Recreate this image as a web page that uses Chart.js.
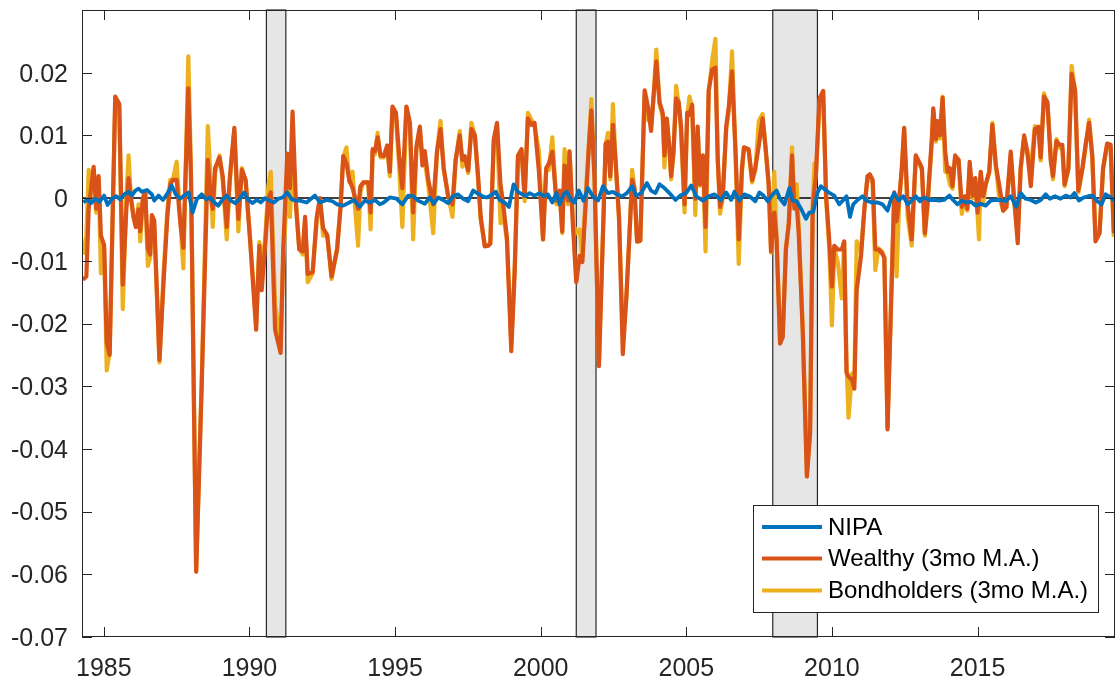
<!DOCTYPE html>
<html>
<head>
<meta charset="utf-8">
<title>NIPA vs Wealthy vs Bondholders</title>
<script src="https://cdn.jsdelivr.net/npm/chart.js@4.4.1/dist/chart.umd.min.js"></script>
<style>
  html, body { margin: 0; padding: 0; background: #fff; }
  #wrap { width: 1116px; height: 681px; }
</style>
</head>
<body>
<div id="wrap"><canvas id="chart" width="1116" height="681"></canvas></div>
<script>
// Dates (decimal years) of the traced points for the two 3mo M.A. series
const tW = [
  1984.28,1984.40,1984.48,1984.65,1984.74,1984.82,1984.90,1985.01,1985.10,1985.20,
  1985.39,1985.53,1985.65,1985.77,1985.85,1985.93,1986.02,1986.10,1986.19,1986.25,
  1986.34,1986.42,1986.51,1986.59,1986.65,1986.73,1986.91,1987.05,1987.18,1987.28,
  1987.37,1987.50,1987.62,1987.73,1987.90,1987.99,1988.17,1988.36,1988.57,1988.67,
  1988.74,1988.82,1988.97,1989.08,1989.22,1989.33,1989.48,1989.62,1989.74,1989.87,
  1990.02,1990.23,1990.34,1990.42,1990.53,1990.65,1990.73,1990.88,1991.07,1991.16,
  1991.30,1991.39,1991.48,1991.60,1991.71,1991.83,1991.91,1992.00,1992.17,1992.31,
  1992.42,1992.53,1992.67,1992.82,1993.01,1993.13,1993.22,1993.33,1993.43,1993.54,
  1993.65,1993.73,1993.81,1993.91,1994.08,1994.16,1994.23,1994.31,1994.40,1994.50,
  1994.61,1994.73,1994.82,1994.91,1995.03,1995.14,1995.25,1995.39,1995.51,1995.62,
  1995.73,
  1995.85,1995.94,1996.02,1996.14,1996.31,1996.44,1996.56,1996.67,1996.82,1996.97,
  1997.08,1997.22,1997.31,1997.39,1997.51,1997.62,1997.74,1997.85,1997.94,1998.08,
  1998.19,1998.27,1998.39,1998.50,1998.62,1998.73,1998.84,1998.99,1999.11,1999.22,
  1999.34,1999.45,1999.56,1999.68,1999.79,1999.94,2000.08,2000.19,2000.28,2000.40,
  2000.54,2000.65,2000.74,2000.82,2000.94,2000.99,2001.11,2001.22,2001.34,2001.43,
  2001.54,2001.66,2001.74,2001.85,
  2002.00,2002.14,2002.23,2002.31,2002.39,2002.48,2002.57,2002.69,2002.82,2002.94,
  2003.05,2003.14,2003.22,2003.31,2003.42,2003.57,2003.68,2003.79,2003.87,2003.97,
  2004.08,2004.19,2004.25,2004.33,2004.42,2004.48,2004.56,2004.65,2004.74,2004.82,
  2004.94,2005.03,2005.11,2005.20,2005.31,2005.39,2005.47,2005.57,2005.66,2005.77,
  2005.89,2006.00,2006.08,2006.16,2006.25,2006.37,2006.46,2006.57,2006.69,2006.80,
  2006.91,2006.98,2007.14,2007.26,2007.37,2007.49,
  2007.62,2007.72,2007.83,2007.91,2008.02,2008.10,2008.22,2008.31,2008.42,2008.52,
  2008.63,2008.71,2008.79,2008.86,2009.00,2009.14,2009.25,2009.34,2009.40,2009.45,
  2009.57,2009.70,2009.80,2009.91,2010.00,2010.08,2010.20,2010.34,2010.42,2010.50,
  2010.57,2010.69,2010.77,2010.85,2011.00,2011.11,2011.22,2011.30,2011.40,2011.49,
  2011.60,2011.72,2011.80,2011.91,2012.02,2012.14,2012.22,2012.31,2012.40,2012.48,
  2012.60,2012.74,2012.88,2012.99,2013.09,2013.19,2013.28,
  2013.43,2013.48,2013.57,2013.63,2013.71,2013.80,2013.89,2013.97,2014.05,2014.14,
  2014.23,2014.35,2014.46,2014.57,2014.65,2014.73,2014.83,2014.92,2015.00,2015.05,
  2015.11,2015.19,2015.28,2015.40,2015.51,2015.63,2015.74,2015.88,2015.99,2016.14,
  2016.25,2016.38,2016.48,2016.60,2016.71,2016.83,2016.97,2017.09,2017.17,2017.28,
  2017.40,2017.51,2017.59,2017.71,2017.82,2017.91,2017.99,2018.12,2018.23,2018.35,
  2018.46,2018.60,2018.71,2018.83,2018.94,2019.05,2019.19,2019.31,2019.45,2019.57,
  2019.68
];

const wealthy = [
  -0.0130,-0.0125,-0.0017,0.0050,-0.0017,0.0035,-0.0060,-0.0075,-0.0230,-0.0250,
  0.0162,0.0150,-0.0138,-0.0020,0.0032,0.0000,-0.0030,-0.0046,-0.0018,-0.0053,
  0.0000,0.0010,-0.0080,-0.0090,-0.0027,-0.0036,-0.0258,-0.0134,-0.0030,0.0022,
  0.0029,0.0029,-0.0036,-0.0079,0.0175,0.0035,-0.0596,-0.0300,0.0061,0.0000,
  -0.0017,0.0048,0.0065,0.0035,-0.0046,0.0035,0.0112,-0.0033,0.0045,0.0029,
  -0.0066,-0.0210,-0.0076,-0.0147,-0.0082,0.0000,0.0009,-0.0210,-0.0247,-0.0080,
  0.0071,0.0016,0.0138,-0.0013,-0.0082,-0.0085,-0.0030,-0.0121,-0.0118,-0.0030,
  0.0000,-0.0048,-0.0059,-0.0125,-0.0082,-0.0013,0.0067,0.0055,0.0029,0.0016,
  -0.0004,-0.0017,0.0019,0.0025,0.0025,-0.0023,0.0078,0.0075,0.0097,0.0068,
  0.0067,0.0084,0.0042,0.0146,0.0136,0.0068,0.0016,0.0146,0.0120,-0.0023,
  0.0081,
  0.0114,0.0052,0.0075,0.0029,-0.0010,0.0074,0.0110,0.0048,0.0003,-0.0010,
  0.0061,0.0100,0.0061,0.0067,0.0044,0.0110,0.0100,0.0035,-0.0030,-0.0077,
  -0.0076,-0.0073,0.0094,0.0120,0.0022,-0.0017,-0.0063,-0.0244,-0.0115,0.0068,
  0.0078,0.0003,0.0127,0.0117,0.0120,0.0042,-0.0066,0.0048,0.0055,0.0074,
  -0.0004,0.0012,-0.0053,0.0052,-0.0004,0.0074,-0.0046,-0.0134,-0.0092,-0.0102,
  -0.0013,0.0087,0.0140,0.0029,
  -0.0268,-0.0056,0.0087,0.0090,0.0035,0.0117,0.0061,-0.0030,-0.0249,-0.0160,
  -0.0056,0.0029,0.0016,-0.0069,-0.0068,0.0172,0.0146,0.0107,0.0159,0.0218,
  0.0153,0.0136,0.0068,0.0127,0.0081,0.0035,0.0074,0.0159,0.0153,0.0114,
  -0.0010,0.0136,0.0133,0.0149,-0.0001,0.0114,0.0022,0.0068,-0.0046,0.0172,
  0.0205,0.0208,0.0061,-0.0014,0.0003,0.0114,0.0146,0.0202,0.0074,-0.0066,
  0.0048,0.0081,0.0078,0.0029,0.0048,0.0084,
  0.0127,0.0081,0.0022,-0.0085,-0.0023,-0.0066,-0.0232,-0.0222,-0.0082,-0.0040,
  0.0068,-0.0017,-0.0010,-0.0056,-0.0215,-0.0444,-0.0376,-0.0017,0.0015,0.0035,
  0.0159,0.0171,0.0003,-0.0069,-0.0141,-0.0076,-0.0082,-0.0082,-0.0069,-0.0278,
  -0.0285,-0.0290,-0.0304,-0.0147,-0.0092,-0.0020,0.0035,0.0038,0.0029,-0.0082,
  -0.0082,-0.0088,-0.0095,-0.0369,-0.0187,0.0009,-0.0037,-0.0001,0.0048,0.0112,
  -0.0010,-0.0066,0.0068,0.0058,0.0048,-0.0056,-0.0010,
  0.0094,0.0143,0.0094,0.0123,0.0100,0.0160,0.0074,0.0042,0.0048,0.0019,
  0.0068,0.0061,-0.0014,0.0003,-0.0017,0.0058,0.0004,0.0032,-0.0023,0.0005,
  0.0042,0.0003,0.0022,0.0042,0.0117,0.0052,0.0022,-0.0020,-0.0014,0.0074,
  0.0003,-0.0072,0.0048,0.0100,0.0074,0.0019,0.0110,0.0114,0.0065,0.0162,
  0.0153,0.0061,0.0035,0.0091,0.0085,0.0085,0.0022,0.0048,0.0198,0.0172,
  0.0012,0.0048,0.0085,0.0120,0.0068,-0.0069,-0.0056,0.0048,0.0087,0.0085,
  -0.0056
];

const bondholders = [
  -0.0090,-0.0060,0.0045,0.0020,-0.0023,0.0030,-0.0120,-0.0080,-0.0275,-0.0245,
  0.0150,0.0145,-0.0177,0.0000,0.0068,0.0000,-0.0030,-0.0046,-0.0010,-0.0069,
  -0.0003,0.0010,-0.0108,-0.0095,-0.0040,-0.0045,-0.0262,-0.0120,-0.0020,0.0029,
  0.0029,0.0058,-0.0030,-0.0112,0.0226,0.0050,-0.0594,-0.0290,0.0115,0.0030,
  -0.0046,0.0040,0.0068,0.0030,-0.0066,0.0030,0.0107,-0.0053,0.0048,0.0025,
  -0.0063,-0.0200,-0.0070,-0.0100,-0.0070,0.0020,0.0042,-0.0170,-0.0230,-0.0100,
  0.0022,-0.0030,0.0060,-0.0010,-0.0080,-0.0090,-0.0035,-0.0134,-0.0120,-0.0035,
  -0.0005,-0.0060,-0.0060,-0.0129,-0.0080,-0.0010,0.0065,0.0081,0.0025,0.0042,
  -0.0030,-0.0076,0.0010,0.0025,0.0025,-0.0050,0.0075,0.0070,0.0104,0.0065,
  0.0065,0.0080,0.0035,0.0140,0.0130,0.0050,-0.0046,0.0145,0.0115,-0.0066,
  0.0075,
  0.0110,0.0068,0.0060,0.0020,-0.0056,0.0075,0.0123,0.0045,0.0005,-0.0030,
  0.0060,0.0107,0.0050,0.0065,0.0040,0.0120,0.0100,0.0030,-0.0034,-0.0075,
  -0.0076,-0.0070,0.0090,0.0115,-0.0040,-0.0030,-0.0068,-0.0230,-0.0105,0.0065,
  0.0075,-0.0005,0.0136,0.0125,0.0115,0.0075,-0.0066,0.0045,0.0045,0.0097,
  -0.0010,0.0010,-0.0056,0.0078,-0.0010,0.0075,-0.0040,-0.0056,-0.0050,-0.0095,
  0.0000,0.0090,0.0158,0.0030,
  -0.0260,-0.0050,0.0085,0.0104,0.0030,0.0150,0.0060,-0.0035,-0.0220,-0.0160,
  -0.0060,0.0045,0.0015,-0.0070,-0.0068,0.0165,0.0125,0.0120,0.0155,0.0237,
  0.0150,0.0130,0.0049,0.0125,0.0075,0.0030,0.0070,0.0179,0.0150,0.0105,
  -0.0023,0.0130,0.0162,0.0145,-0.0027,0.0110,0.0020,0.0065,-0.0085,0.0170,
  0.0220,0.0254,0.0060,-0.0025,0.0000,0.0110,0.0140,0.0234,0.0070,-0.0105,
  0.0040,0.0080,0.0075,0.0025,0.0045,0.0123,
  0.0134,0.0080,0.0020,-0.0087,0.0042,-0.0065,-0.0222,-0.0220,-0.0080,-0.0040,
  0.0081,-0.0015,0.0022,-0.0046,-0.0210,-0.0440,-0.0370,-0.0010,0.0055,0.0040,
  0.0145,0.0165,0.0000,-0.0082,-0.0203,-0.0080,-0.0102,-0.0160,-0.0070,-0.0260,
  -0.0350,-0.0280,-0.0290,-0.0069,-0.0085,-0.0020,0.0030,0.0030,0.0025,-0.0115,
  -0.0080,-0.0085,-0.0095,-0.0365,-0.0180,0.0005,-0.0125,-0.0005,0.0045,0.0110,
  -0.0030,-0.0076,0.0065,0.0055,0.0045,-0.0060,-0.0015,
  0.0090,0.0140,0.0090,0.0110,0.0095,0.0162,0.0042,0.0040,0.0022,0.0015,
  0.0065,0.0060,-0.0025,0.0000,-0.0020,0.0048,0.0000,0.0030,-0.0025,-0.0066,
  0.0040,-0.0010,0.0020,0.0040,0.0120,0.0050,0.0003,-0.0020,-0.0015,0.0070,
  -0.0004,-0.0050,0.0045,0.0095,0.0070,0.0048,0.0115,0.0110,0.0060,0.0167,
  0.0150,0.0076,0.0030,0.0094,0.0080,0.0080,0.0019,0.0045,0.0211,0.0170,
  0.0009,0.0045,0.0080,0.0125,0.0065,-0.0056,-0.0055,0.0045,0.0085,0.0080,
  -0.0062
];

// NIPA series, its own dates
const tN = [
  1984.30,1984.44,1984.56,1984.71,1984.85,1985.01,1985.13,1985.28,1985.43,1985.56,
  1985.70,1985.85,1985.96,1986.08,1986.19,1986.31,1986.48,1986.65,1986.73,1986.88,
  1987.03,1987.16,1987.33,1987.48,1987.62,1987.76,1987.91,1988.05,1988.19,1988.36,
  1988.51,1988.65,1988.79,1988.93,1989.08,1989.22,1989.36,1989.51,1989.65,1989.82,
  1989.96,1990.11,1990.25,1990.39,1990.53,1990.68,1990.84,1990.99,1991.14,1991.30,
  1991.45,1991.60,
  1991.73,1991.96,
  1992.25,1992.42,1992.65,1992.85,1993.01,1993.22,1993.43,1993.59,1993.79,1993.96,
  1994.13,1994.31,1994.48,1994.61,1994.82,1995.05,1995.25,1995.45,1995.62,1995.79,
  1996.02,1996.19,1996.33,1996.48,1996.65,1996.82,1996.99,1997.16,1997.34,
  1997.51,1997.68,1997.82,1998.00,1998.14,1998.27,1998.46,1998.59,1998.76,1998.91,
  1999.07,1999.22,1999.37,1999.48,1999.62,1999.79,1999.96,2000.10,2000.25,2000.40,
  2000.54,2000.65,2000.79,2000.90,2001.05,2001.16,2001.31,2001.47,2001.62,2001.79,
  2001.97,2002.14,2002.31,2002.48,2002.62,2002.80,2002.96,2003.14,2003.28,2003.45,
  2003.65,2003.79,2003.94,2004.08,2004.25,2004.42,2004.63,2004.79,2004.99,2005.17,
  2005.34,2005.57,2005.77,2005.97,2006.19,2006.37,2006.54,2006.65,2006.82,2006.99,
  2007.17,2007.37,
  2007.51,2007.65,2007.80,2007.97,2008.10,2008.22,2008.37,2008.54,2008.65,2008.79,
  2008.94,2009.11,2009.22,2009.36,2009.51,2009.62,2009.80,2009.93,2010.08,2010.25,
  2010.39,2010.50,2010.62,2010.73,2010.88,2011.05,2011.19,2011.37,2011.57,2011.74,
  2011.91,2012.02,2012.14,2012.29,2012.45,2012.60,2012.74,2012.88,2013.02,2013.17,
  2013.34,
  2013.51,2013.68,2013.85,2014.03,2014.16,2014.31,2014.46,2014.60,2014.77,2014.94,
  2015.11,2015.28,2015.45,2015.63,2015.80,2015.97,2016.14,2016.33,2016.48,2016.65,
  2016.83,2017.00,2017.17,2017.34,2017.48,2017.66,2017.85,2018.03,2018.20,2018.33,
  2018.48,2018.65,2018.80,2018.94,2019.11,2019.26,2019.40,2019.57,2019.68
];

const nipa = [
  -0.0007,-0.0002,-0.0008,-0.0001,-0.0006,0.0004,-0.0011,-0.0001,0.0003,-0.0002,
  0.0006,0.0010,0.0004,0.0012,0.0015,0.0010,0.0013,0.0006,-0.0004,0.0004,
  -0.0003,0.0006,0.0020,0.0005,-0.0001,0.0004,0.0009,-0.0023,-0.0002,0.0006,
  -0.0002,0.0001,-0.0007,-0.0012,-0.0002,0.0004,-0.0004,-0.0008,-0.0002,0.0009,
  -0.0003,-0.0008,-0.0003,-0.0007,0.0000,-0.0004,-0.0007,-0.0001,0.0001,0.0009,
  -0.0002,-0.0004,
  -0.0004,-0.0007,
  0.0004,-0.0007,-0.0003,-0.0005,-0.0010,-0.0012,-0.0007,-0.0003,-0.0014,-0.0004,
  -0.0007,-0.0003,-0.0010,-0.0007,0.0001,-0.0001,-0.0010,0.0004,0.0003,-0.0004,
  -0.0009,0.0001,-0.0009,0.0001,-0.0003,-0.0008,0.0003,0.0006,-0.0001,
  -0.0005,0.0012,0.0008,0.0003,0.0001,0.0004,0.0010,-0.0003,-0.0007,-0.0014,
  0.0022,0.0010,0.0006,0.0003,0.0008,0.0004,0.0008,0.0003,0.0006,-0.0007,
  0.0008,-0.0010,0.0006,0.0010,-0.0003,-0.0007,0.0012,-0.0004,0.0016,0.0003,
  -0.0004,0.0019,0.0008,0.0010,0.0006,0.0003,0.0008,0.0019,0.0004,0.0008,
  0.0024,0.0012,0.0008,0.0022,0.0016,0.0008,-0.0003,0.0004,0.0008,0.0020,
  0.0003,-0.0004,0.0003,0.0006,-0.0003,0.0009,-0.0003,0.0010,-0.0004,0.0006,
  0.0003,-0.0005,
  0.0009,0.0004,-0.0005,0.0006,0.0012,-0.0001,-0.0010,0.0016,-0.0004,-0.0005,
  -0.0017,-0.0033,-0.0023,-0.0022,0.0009,0.0019,0.0012,0.0008,0.0004,-0.0010,
  -0.0003,0.0003,-0.0030,-0.0010,-0.0003,0.0003,-0.0004,-0.0007,-0.0007,-0.0010,
  -0.0020,-0.0003,0.0008,-0.0004,0.0003,-0.0010,-0.0004,0.0003,-0.0005,0.0001,
  -0.0003,
  -0.0003,-0.0004,-0.0003,0.0004,-0.0003,-0.0010,-0.0004,-0.0007,-0.0006,-0.0012,
  -0.0009,-0.0012,-0.0004,-0.0003,-0.0003,-0.0005,0.0003,-0.0014,0.0008,-0.0001,
  -0.0003,-0.0007,-0.0003,0.0006,-0.0001,0.0003,-0.0001,0.0004,0.0001,0.0008,
  -0.0004,0.0001,0.0003,0.0004,-0.0005,-0.0010,0.0006,0.0001,-0.0004
];

// NBER recessions (shaded bands)
const recStart = [1990.58, 2001.22, 2007.97];
const recEnd = [1991.25, 2001.90, 2009.50];

// axes
const xMin = 1984.25, xMax = 2019.72;
const yMin = -0.07, yMax = 0.03;
const xTicks = [1985, 1990, 1995, 2000, 2005, 2010, 2015];
const yTicks = [-0.07, -0.06, -0.05, -0.04, -0.03, -0.02, -0.01, 0, 0.01, 0.02];

function toPoints(t, v) {
  return t.map((x, i) => ({ x: x, y: v[i] }));
}

const axisColor = '#262626';
const fontFamily = '"Liberation Sans", Arial, Helvetica, sans-serif';

// bands, zero line, box with inward ticks and the legend box
const framePlugin = {
  id: 'frame',
  beforeDatasetsDraw(chart) {
    const { ctx, chartArea: a, scales: { x, y } } = chart;
    ctx.save();
    for (let i = 0; i < recStart.length; i++) {
      const x0 = x.getPixelForValue(recStart[i]);
      const x1 = x.getPixelForValue(recEnd[i]);
      ctx.fillStyle = '#e6e6e6';
      ctx.fillRect(x0, a.top, x1 - x0, a.bottom - a.top);
      ctx.strokeStyle = '#000';
      ctx.lineWidth = 1;
      ctx.strokeRect(x0, a.top, x1 - x0, a.bottom - a.top);
    }
    const y0 = y.getPixelForValue(0);
    ctx.beginPath();
    ctx.moveTo(a.left, y0);
    ctx.lineTo(a.right, y0);
    ctx.lineWidth = 1.5;
    ctx.strokeStyle = '#000';
    ctx.stroke();
    ctx.restore();
  },
  afterDatasetsDraw(chart) {
    const { ctx, chartArea: a, scales: { x, y } } = chart;
    ctx.save();
    ctx.strokeStyle = axisColor;
    ctx.lineWidth = 1;
    ctx.strokeRect(a.left + 0.5, a.top + 0.5, a.right - a.left - 1, a.bottom - a.top - 1);
    ctx.beginPath();
    xTicks.forEach(v => {
      const px = Math.round(x.getPixelForValue(v)) + 0.5;
      ctx.moveTo(px, a.bottom); ctx.lineTo(px, a.bottom - 10);
      ctx.moveTo(px, a.top); ctx.lineTo(px, a.top + 10);
    });
    yTicks.forEach(v => {
      const py = Math.round(y.getPixelForValue(v)) + 0.5;
      ctx.moveTo(a.left, py); ctx.lineTo(a.left + 10, py);
      ctx.moveTo(a.right, py); ctx.lineTo(a.right - 10, py);
    });
    ctx.stroke();

    // legend
    const box = { left: 753, top: 505, right: 1098, bottom: 612 };
    const rows = [527, 558.5, 590.5];
    ctx.fillStyle = '#fff';
    ctx.fillRect(box.left, box.top, box.right - box.left, box.bottom - box.top);
    ctx.strokeStyle = axisColor;
    ctx.strokeRect(box.left + 0.5, box.top + 0.5, box.right - box.left, box.bottom - box.top);
    ctx.font = '24px ' + fontFamily;
    ctx.textBaseline = 'middle';
    ctx.textAlign = 'left';
    chart.data.datasets.forEach((ds, i) => {
      ctx.beginPath();
      ctx.moveTo(762, rows[i]);
      ctx.lineTo(822, rows[i]);
      ctx.strokeStyle = ds.borderColor;
      ctx.lineWidth = 4;
      ctx.stroke();
      ctx.fillStyle = '#000';
      ctx.fillText(ds.label, 828, rows[i] + 1);
    });
    ctx.restore();
  }
};

new Chart(document.getElementById('chart'), {
  type: 'line',
  data: {
    datasets: [
      { label: 'NIPA', data: toPoints(tN, nipa), borderColor: '#0072BD', borderWidth: 3.8, order: 0 },
      { label: 'Wealthy (3mo M.A.)', data: toPoints(tW, wealthy), borderColor: '#D95319', borderWidth: 4.2, order: 1 },
      { label: 'Bondholders (3mo M.A.)', data: toPoints(tW, bondholders), borderColor: '#EDB120', borderWidth: 4.2, order: 2 }
    ]
  },
  options: {
    responsive: false,
    animation: false,
    devicePixelRatio: 1,
    layout: { padding: { top: 10, right: 1, left: 0, bottom: 0 } },
    plugins: { legend: { display: false }, tooltip: { enabled: false } },
    elements: {
      point: { radius: 0 },
      line: { tension: 0, borderJoinStyle: 'round', fill: false }
    },
    scales: {
      x: {
        type: 'linear',
        min: xMin,
        max: xMax,
        grid: { display: false, drawTicks: false },
        border: { display: false },
        afterBuildTicks: s => { s.ticks = xTicks.map(v => ({ value: v })); },
        afterFit: s => { s.height = 44; s.paddingLeft = 0; s.paddingRight = 0; },
        ticks: {
          padding: 17,
          color: axisColor,
          font: { family: fontFamily, size: 25 },
          maxRotation: 0,
          autoSkip: false,
          callback: v => String(v)
        }
      },
      y: {
        type: 'linear',
        min: yMin,
        max: yMax,
        grid: { display: false, drawTicks: false },
        border: { display: false },
        afterBuildTicks: s => { s.ticks = yTicks.map(v => ({ value: v })); },
        afterFit: s => { s.width = 82; s.paddingTop = 0; s.paddingBottom = 0; },
        ticks: {
          padding: 14,
          labelOffset: 2,
          color: axisColor,
          font: { family: fontFamily, size: 25 },
          callback: v => String(Math.round(v * 100) / 100)
        }
      }
    }
  },
  plugins: [framePlugin]
});
</script>
</body>
</html>
